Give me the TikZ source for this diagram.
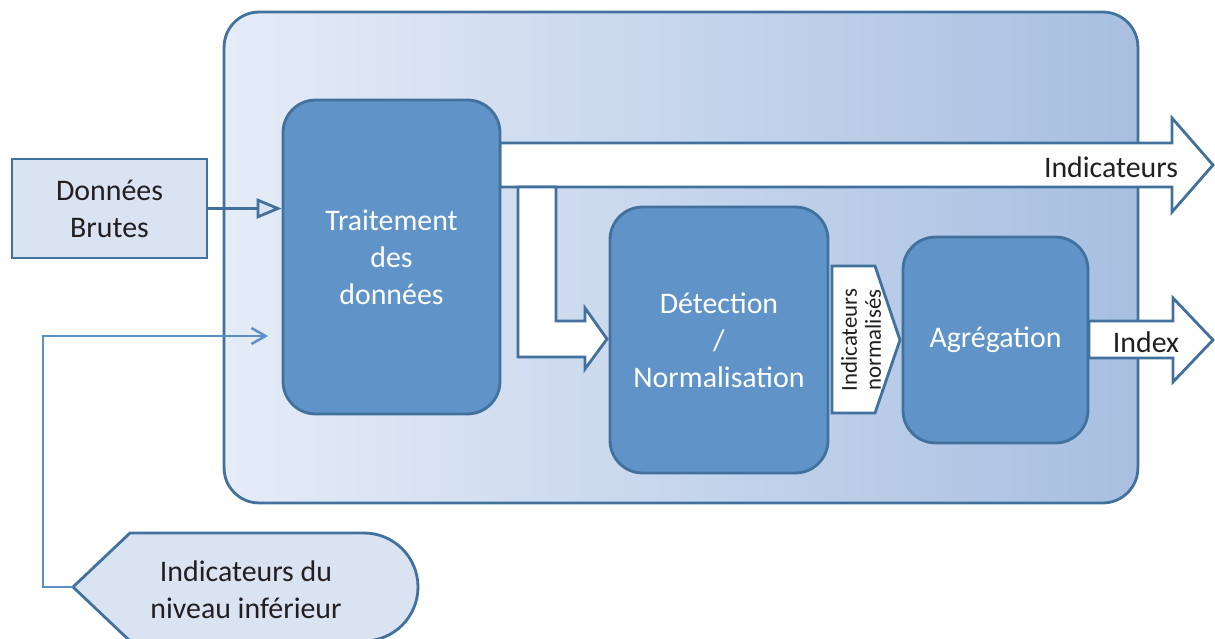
\documentclass[tikz,border=0pt]{standalone}
\usepackage{fontspec}
\setmainfont{Carlito}
\usetikzlibrary{arrows.meta}
\definecolor{bordbleu}{RGB}{65,113,156}
\definecolor{boitebleu}{RGB}{96,148,200}
\definecolor{fondclair}{RGB}{218,227,242}
\definecolor{degradeG}{RGB}{229,236,247}
\definecolor{degradeD}{RGB}{168,191,225}
\definecolor{lienbleu}{RGB}{91,143,200}
\definecolor{texte}{RGB}{35,31,32}

\begin{document}
\begin{tikzpicture}[x=0.02cm, y=-0.02cm, line width=1.6pt,
	cadre/.style = {draw=bordbleu, rounded corners=0.7cm, left color=degradeG, right color=degradeD},
	etape/.style = {draw=bordbleu, fill=boitebleu, rounded corners=0.65cm, text=white, align=center, font=\fontsize{17}{21}\selectfont},
	entree/.style = {draw=bordbleu, fill=fondclair, text=texte, align=center, font=\fontsize{17}{21}\selectfont},
	fleche/.style = {draw=bordbleu, fill=white, line join=miter},
	etiq/.style = {text=texte, font=\fontsize{17}{21}\selectfont}]
				\useasboundingbox (0,0) rectangle (1215,639);

				% cadre du niveau
				\node[cadre, minimum width=18.28cm, minimum height=9.82cm] (niveau) at (681,257.5) {};

				% grandes fleches
				\draw[fleche] (500,143) -- (1172,143) -- (1172,118) -- (1213,165) -- (1172,212) -- (1172,187) -- (500,187) -- cycle;
				\draw[fleche] (518,187) -- (518,357) -- (585,357) -- (585,369) -- (607,339) -- (585,308) -- (585,321) -- (556,321) -- (556,187) -- cycle;
				\node[etiq] (indic) at (1111,167) {Indicateurs};

				% etapes
				\node[etape, minimum width=4.34cm, minimum height=6.28cm] (trait) at (391.5,257) {Traitement\\des\\données};
				\node[etape, minimum width=4.36cm, minimum height=5.32cm] (detect) at (719,340) {Détection\\/\\Normalisation};
				\node[etape, minimum width=3.7cm, minimum height=4.12cm] (agreg) at (995.5,340) {Agrégation};

				\draw[fleche] (832,266) -- (875,266) -- (900,340) -- (875,413) -- (832,413) -- cycle;
				\node[text=texte, rotate=90, align=center, font=\fontsize{13}{13.6}\selectfont] (norm) at (861,340) {Indicateurs\\normalisés};

				\draw[fleche] (1089,321) -- (1173,321) -- (1173,298) -- (1213,340) -- (1173,382) -- (1173,358) -- (1089,358) -- cycle;
				\node[etiq] (index) at (1146,342) {Index};

				% entrees
				\node[entree, minimum width=3.9cm, minimum height=1.98cm] (donnees) at (109.5,208.5) {Données\\Brutes};
				\draw[bordbleu, -{Triangle[fill=fondclair, length=0.5cm, width=0.4cm]}] (donnees.east) -- (trait.west |- donnees.east);

				\draw[draw=bordbleu, fill=fondclair] (73,587) -- (130,533) -- (364,533) arc[start angle=-90, end angle=90, radius=54] -- (130,641) -- cycle;
				\coordinate (pointe) at (73,587);
				\node[text=texte, align=center, font=\fontsize{17}{21}\selectfont] (infer) at (246,590) {Indicateurs du\\niveau inférieur};

				\coordinate (retour) at (268,336);
				\draw[lienbleu, line width=1.4pt, -{Straight Barb[length=0.28cm, width=0.32cm]}] (pointe) -- (43,587) |- (retour);

			\end{tikzpicture}
\end{document}
